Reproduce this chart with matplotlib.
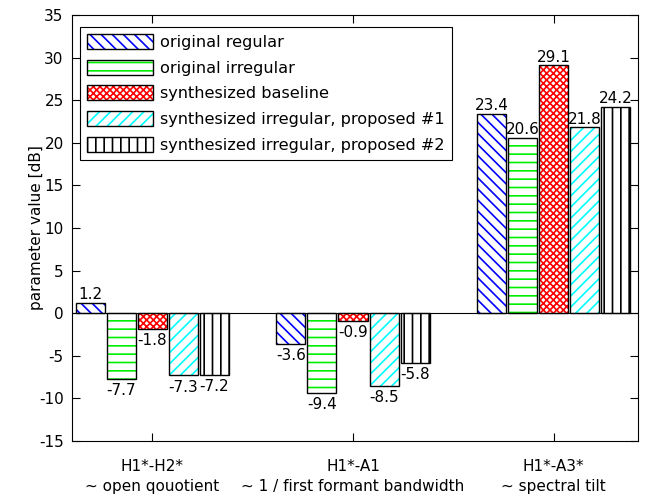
import matplotlib.pyplot as plt
import numpy as np
from matplotlib.patches import Patch

# datos
grupos = ['H1*-H2*\n~ open qouotient',
          'H1*-A1\n~ 1 / first formant bandwidth',
          'H1*-A3*\n~ spectral tilt']
series = ['original regular', 'original irregular', 'synthesized baseline',
          'synthesized irregular, proposed #1', 'synthesized irregular, proposed #2']
orig_regular = [1.2, -3.6, 23.4]
orig_irregular = [-7.7, -9.4, 20.6]
synth_baseline = [-1.8, -0.9, 29.1]
synth_prop1 = [-7.3, -8.5, 21.8]
synth_prop2 = [-7.2, -5.8, 24.2]
valores = [orig_regular, orig_irregular, synth_baseline, synth_prop1, synth_prop2]

colores = ['#0000ff', '#00ee00', '#ff0000', '#00ffff', 'black']
tramas = ['\\\\\\', '--', 'xxxxx', '///', '||']

plt.rcParams['font.family'] = 'DejaVu Sans'
plt.rcParams['font.size'] = 11
plt.rcParams['axes.unicode_minus'] = False
plt.rcParams['hatch.linewidth'] = 1.2

fig = plt.figure(figsize=(6.46, 4.97), dpi=100)
ax = fig.add_axes([72/646, 1-441/497, 566/646, 426/497])

x = np.arange(1, 4)
paso = 0.155
ancho = 0.145
handles = []
for i, (vals, c, h) in enumerate(zip(valores, colores, tramas)):
    pos = x + (i - 2) * paso
    ax.bar(pos, vals, ancho, color='white', edgecolor=c, hatch=h, linewidth=0)
    ax.bar(pos, vals, ancho, fill=False, edgecolor='black', linewidth=1.0)
    for p, v in zip(pos, vals):
        if v >= 0:
            ax.annotate(f'{v:.1f}', (p, v), xytext=(0, 0.5), textcoords='offset points',
                        ha='center', va='bottom')
        else:
            ax.annotate(f'{v:.1f}', (p, v), xytext=(0, -3), textcoords='offset points',
                        ha='center', va='top')
    handles.append((Patch(facecolor='white', edgecolor=c, hatch=h, linewidth=0),
                    Patch(fill=False, edgecolor='black', linewidth=1.0)))

ax.axhline(0, color='black', linewidth=0.8)
ax.set_xlim(0.6, 3.42)
ax.set_ylim(-15, 35)
ax.set_yticks(range(-15, 36, 5))
ax.set_xticks(x)
ax.set_xticklabels(grupos, linespacing=1.4)
ax.tick_params(direction='in', top=True, right=True, length=6, width=0.8)
ax.tick_params(axis='x', pad=13)
ax.tick_params(axis='y', pad=6)
ax.set_ylabel('parameter value [dB]')
ax.yaxis.set_label_coords(-0.05, 0.5)

leg = ax.legend(handles, series, loc='upper left', bbox_to_anchor=(0.014, 0.972),
                borderaxespad=0, fontsize=11.6, handlelength=4.1, handleheight=1.05,
                handletextpad=0.4, labelspacing=0.6, borderpad=0.45,
                fancybox=False, framealpha=1, edgecolor='black')
leg.get_frame().set_linewidth(0.8)

fig.savefig('out.png', dpi=100)
